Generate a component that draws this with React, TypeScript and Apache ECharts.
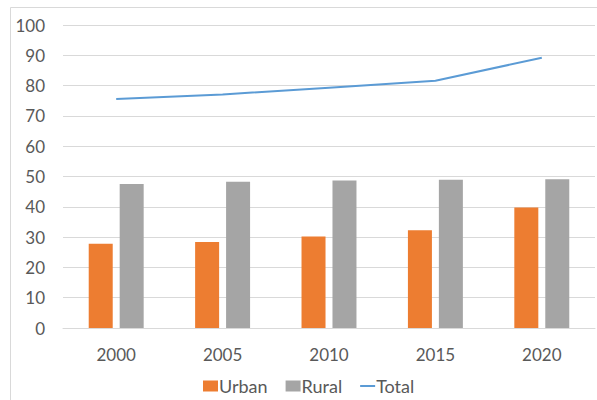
import React, { useEffect, useRef } from "react";
import * as echarts from "echarts";

const years = ["2000", "2005", "2010", "2015", "2020"];
const urban = [27.8, 28.4, 30.2, 32.3, 39.8];
const rural = [47.5, 48.3, 48.7, 48.9, 49.1];
const total = [75.6, 77.1, 79.3, 81.6, 89.2];

const FONT = "Lato, 'Noto Sans', sans-serif";
const TEXT = "#595959";
const GRID = "#d9d9d9";

export default function App() {
  const ref = useRef<HTMLDivElement>(null);

  useEffect(() => {
    document.body.style.margin = "0";
    const chart = echarts.init(ref.current!, null, { renderer: "svg" });
    chart.setOption({
      animation: false,
      backgroundColor: "#ffffff",
      textStyle: { fontFamily: FONT },
      graphic: [
        {
          type: "rect",
          shape: { x: 10.5, y: 7.5, width: 700, height: 500 },
          style: { fill: "none", stroke: GRID, lineWidth: 1 },
          silent: true,
        },
      ],
      grid: { left: 63, right: 2, top: 25, bottom: 72 },
      legend: {
        bottom: 0,
        left: 198,
        itemGap: 18,
        itemWidth: 15,
        itemHeight: 11,
        textStyle: { fontFamily: FONT, fontSize: 18, color: TEXT, padding: [0, 0, 0, -4] },
        data: [
          { name: "Urban", icon: "rect" },
          { name: "Rural", icon: "rect" },
          { name: "Total", icon: "path://M0,0h15v2h-15z", itemStyle: { color: "#5B9BD5" } },
        ],
      },
      xAxis: {
        type: "category",
        data: years,
        axisTick: { show: false },
        axisLine: { lineStyle: { color: GRID } },
        axisLabel: { fontFamily: FONT, fontSize: 17, color: TEXT, margin: 18 },
      },
      yAxis: {
        type: "value",
        min: 0,
        max: 100,
        interval: 10,
        axisLine: { show: false },
        axisTick: { show: false },
        splitLine: { lineStyle: { color: GRID, width: 1 } },
        axisLabel: { fontFamily: FONT, fontSize: 17, color: TEXT, margin: 18 },
      },
      series: [
        {
          name: "Urban",
          type: "bar",
          data: urban,
          barWidth: 24,
          barGap: "29%",
          itemStyle: { color: "#ED7D31" },
        },
        {
          name: "Rural",
          type: "bar",
          data: rural,
          barWidth: 24,
          itemStyle: { color: "#A5A5A5" },
        },
        {
          name: "Total",
          type: "line",
          data: total,
          symbol: "none",
          lineStyle: { color: "#5B9BD5", width: 2 },
          itemStyle: { color: "#5B9BD5" },
        },
      ],
    });
    return () => chart.dispose();
  }, []);

  return (
    <div
      ref={ref}
      style={{ position: "fixed", left: 0, top: 0, width: 597, height: 400 }}
    />
  );
}
